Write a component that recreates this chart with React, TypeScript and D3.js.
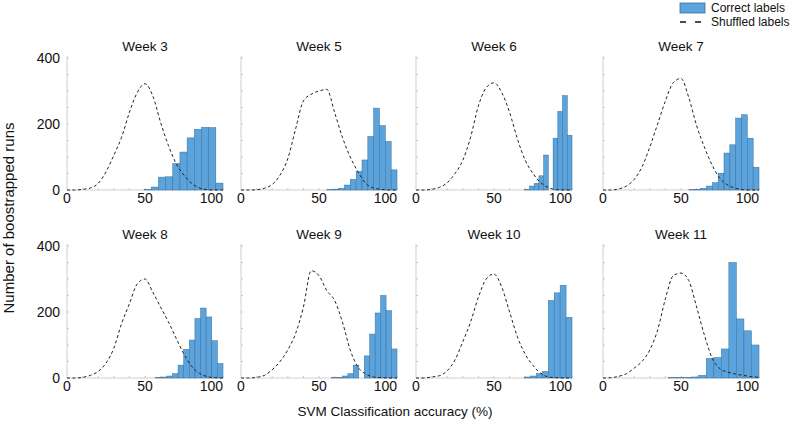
import React from "react";
import * as d3 from "d3";

// week panels, in reading order
const weeks = ["Week 3", "Week 5", "Week 6", "Week 7", "Week 8", "Week 9", "Week 10", "Week 11"];

// histogram of correct-label accuracies (bins end at 100%)
const binWidths = [4.6, 3.74, 3.03, 3.74, 3.6, 3.5, 3.8, 4.83];
const correctWeek3 = [1, 9, 39, 40, 80, 115, 158, 184, 190, 189, 21];
const correctWeek5 = [1, 2, 5, 15, 32, 56, 91, 162, 248, 195, 147, 61];
const correctWeek6 = [1, 12, 20, 43, 106, 0, 157, 238, 286, 166];
const correctWeek7 = [1, 2, 5, 12, 22, 51, 112, 137, 218, 228, 157, 69];
const correctWeek8 = [1, 3, 6, 13, 39, 87, 115, 180, 212, 185, 113, 44];
const correctWeek9 = [1, 2, 6, 13, 39, 0, 67, 133, 197, 250, 204, 88];
const correctWeek10 = [3, 6, 13, 20, 235, 258, 281, 184];
const correctWeek11 = [1, 1, 1, 3, 8, 59, 62, 88, 350, 179, 143, 100];

// shuffled-label distribution, sampled every 5%
const shuffledX = [0, 5, 10, 15, 20, 25, 30, 35, 40, 45, 50, 55, 60, 65, 70, 75, 80, 85, 90, 95, 100];
const shuffledWeek3 = [0, 0, 2, 6, 20, 55, 105, 160, 235, 295, 322, 285, 205, 135, 80, 45, 20, 6, 1, 0, 0];
const shuffledWeek5 = [0, 0, 1, 5, 17, 45, 95, 185, 270, 290, 300, 305, 235, 160, 100, 55, 20, 6, 2, 0, 0];
const shuffledWeek6 = [0, 0, 2, 8, 22, 50, 90, 160, 255, 310, 325, 295, 235, 155, 90, 50, 22, 7, 1, 0, 0];
const shuffledWeek7 = [0, 0, 3, 12, 32, 70, 130, 200, 270, 325, 338, 280, 195, 130, 75, 35, 15, 5, 1, 0, 0];
const shuffledWeek8 = [0, 0, 2, 8, 20, 45, 90, 165, 225, 285, 300, 260, 215, 170, 120, 72, 35, 14, 4, 1, 0];
const shuffledWeek9 = [0, 0, 2, 8, 25, 50, 85, 135, 215, 325, 310, 265, 235, 170, 85, 33, 12, 3, 1, 0, 0];
const shuffledWeek10 = [0, 0, 3, 7, 22, 55, 110, 170, 245, 300, 315, 275, 200, 125, 72, 38, 14, 3, 1, 0, 0];
const shuffledWeek11 = [0, 1, 5, 13, 30, 50, 85, 145, 240, 310, 318, 295, 215, 130, 60, 28, 18, 12, 8, 4, 2];

const correctAll = [correctWeek3, correctWeek5, correctWeek6, correctWeek7, correctWeek8, correctWeek9, correctWeek10, correctWeek11];
const shuffledAll = [shuffledWeek3, shuffledWeek5, shuffledWeek6, shuffledWeek7, shuffledWeek8, shuffledWeek9, shuffledWeek10, shuffledWeek11];

const yTickLabels = [0, 200, 400];
const xTickLabels = [0, 50, 100];

const FONT = "'Liberation Sans', Arial, Helvetica, sans-serif";
const BAR = "#5ba3dc";
const BAR_EDGE = "#3b6e97";
const AXIS = "#cfcfcf";

const colLeft = [67, 241, 416, 603];
const rowBase = [190, 378];
const panelW = 156;
const panelH = 132;

function Panel({ idx }: { idx: number }) {
  const col = idx % 4;
  const row = Math.floor(idx / 4);
  const left = colLeft[col];
  const base = rowBase[row];

  const x = d3.scaleLinear().domain([0, 100]).range([left, left + panelW]);
  const y = d3.scaleLinear().domain([0, 400]).range([base, base - panelH]);

  const counts = correctAll[idx];
  const w = binWidths[idx];
  const start = 100 - counts.length * w;

  const line = d3
    .line<number>()
    .x((_, i) => x(shuffledX[i]))
    .y((d) => y(d))
    .curve(d3.curveMonotoneX);

  return (
    <g>
      <text
        x={left + panelW / 2}
        y={base - panelH - 7}
        textAnchor="middle"
        fontSize={13.5}
        fontFamily={FONT}
        fill="#111"
      >
        {weeks[idx]}
      </text>

      {/* axis lines */}
      <line x1={left} x2={left} y1={base} y2={y(400) - 2} stroke={AXIS} strokeWidth={1} />
      <line x1={left} x2={left + panelW} y1={base} y2={base} stroke={AXIS} strokeWidth={1} />
      {d3.range(50, 401, 50).map((t) => (
        <line key={"yt" + t} x1={left} x2={left + 2} y1={y(t)} y2={y(t)} stroke="#bbb" strokeWidth={0.8} />
      ))}
      {d3.range(10, 101, 10).map((t) => (
        <line key={"xt" + t} x1={x(t)} x2={x(t)} y1={base} y2={base - 2} stroke="#bbb" strokeWidth={0.8} />
      ))}

      {counts.map((c, i) =>
        c > 0 ? (
          <rect
            key={"b" + i}
            x={x(start + i * w)}
            y={y(c)}
            width={x(w) - x(0)}
            height={base - y(c)}
            fill={BAR}
            stroke={BAR_EDGE}
            strokeWidth={0.5}
          />
        ) : null
      )}

      <path
        d={line(shuffledAll[idx]) || ""}
        fill="none"
        stroke="#222"
        strokeWidth={1}
        strokeDasharray="3,2.5"
      />

      {xTickLabels.map((t, i) => (
        <text
          key={"xl" + t}
          x={i === xTickLabels.length - 1 ? x(t) : x(t)}
          y={base + 13}
          textAnchor={i === xTickLabels.length - 1 ? "end" : "middle"}
          fontSize={14}
          fontFamily={FONT}
          fill="#111"
        >
          {t}
        </text>
      ))}

      {col === 0 &&
        yTickLabels.map((t) => (
          <text
            key={"yl" + t}
            x={left - 7}
            y={y(t) + 5}
            textAnchor="end"
            fontSize={14}
            fontFamily={FONT}
            fill="#111"
          >
            {t}
          </text>
        ))}
    </g>
  );
}

export default function App() {
  return (
    <svg
      width={792}
      height={426}
      style={{ position: "absolute", left: 0, top: 0, background: "#fff" }}
    >
      <rect width={792} height={426} fill="#fff" />
      {weeks.map((_, i) => (
        <Panel key={i} idx={i} />
      ))}

      <text x={395} y={416} textAnchor="middle" fontSize={13.5} fontFamily={FONT} fill="#111">
        SVM Classification accuracy (%)
      </text>
      <text
        transform="translate(14,218) rotate(-90)"
        textAnchor="middle"
        fontSize={15}
        fontFamily={FONT}
        fill="#111"
      >
        Number of boostrapped runs
      </text>

      {/* legend */}
      <rect x={680} y={3} width={25} height={10} fill={BAR} stroke={BAR_EDGE} strokeWidth={0.8} />
      <text x={711} y={12} fontSize={12} fontFamily={FONT} fill="#111">
        Correct labels
      </text>
      <line x1={680} x2={702} y1={22} y2={22} stroke="#111" strokeWidth={1.3} strokeDasharray="6,9" />
      <text x={711} y={26} fontSize={12} fontFamily={FONT} fill="#111">
        Shuffled labels
      </text>
    </svg>
  );
}
